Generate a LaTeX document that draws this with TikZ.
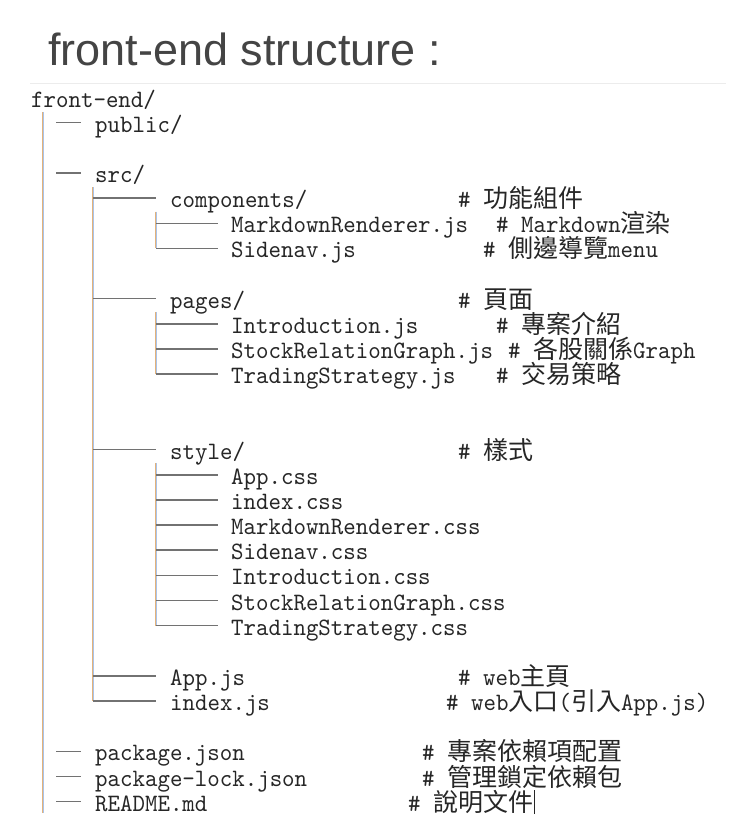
\documentclass[tikz,border=0pt]{standalone}
\usepackage{fontspec}
\setmonofont{lmmono10-regular.otf}[FakeStretch=0.95]
\newfontfamily\cjk{Noto Sans CJK TC}
\newfontfamily\titlefont{Liberation Sans}
\newcommand\treefont{\ttfamily\fontsize{25}{25}\selectfont}

\definecolor{titlegray}{HTML}{444444}
\definecolor{textgray}{HTML}{262626}
\definecolor{linegray}{HTML}{727272}
\definecolor{barorange}{HTML}{E3B27A}
\definecolor{barblue}{HTML}{A9C3EA}

\tikzset{
	item/.style={anchor=base west, inner sep=0pt, font=\treefont, text=textgray},
	note/.style={item},
	branch/.style={draw=linegray, line width=1.5pt},
	stub/.style={draw=linegray, line width=1.3pt},
	vbar/.style={draw=barblue, line width=0.9pt,
		preaction={draw=barorange, line width=0.9pt, transform canvas={xshift=-0.9pt}}}
}

\begin{document}
\begin{tikzpicture}
\useasboundingbox (0pt,0pt) rectangle (740pt,-830pt);

% Titulo
	\node[anchor=base west, inner sep=0pt, font=\titlefont\fontsize{45}{45}\selectfont, text=titlegray]
		(title) at (48pt,-65pt) {front-end structure :};
	\draw[gray!15, line width=0.8pt] (30pt,-83pt) -- (726pt,-83pt);

% Arvore
\begin{scope}[x=1pt, y=-25.15pt, yshift=-107pt]
	\node[item] (root) at (31,0) {front-end/};

	\node[item] (pub)    at (95,1)  {public/};
	\node[item] (src)    at (95,3)  {src/};
	\node[item] (pkg)    at (95,26) {package.json};
	\node[item] (lock)   at (95,27) {package-lock.json};
	\node[item] (readme) at (95,28) {README.md};

	\node[item] (comp)  at (170,4)  {components/};
	\node[item] (pages) at (170,8)  {pages/};
	\node[item] (style) at (170,14) {style/};
	\node[item] (appjs) at (170,23) {App.js};
	\node[item] (idxjs) at (170,24) {index.js};

	\node[item] (mdr)   at (231,5)  {MarkdownRenderer.js};
	\node[item] (side)  at (231,6)  {Sidenav.js};
	\node[item] (intro) at (231,9)  {Introduction.js};
	\node[item] (stock) at (231,10) {StockRelationGraph.js};
	\node[item] (trade) at (231,11) {TradingStrategy.js};

	\foreach \n/\t [count=\r from 15] in {appcss/App.css, idxcss/index.css,
		mdrcss/MarkdownRenderer.css, sidecss/Sidenav.css, introcss/Introduction.css,
		stockcss/StockRelationGraph.css, tradecss/TradingStrategy.css}
		\node[item] (\n) at (231,\r) {\t};

% Comentarios
	\node[note] (compn)   at (458,4)  {\# {\cjk 功能組件}};
	\node[note] (mdrn)    at (496,5)  {\# Markdown{\cjk 渲染}};
	\node[note] (siden)   at (483,6)  {\# {\cjk 側邊導覽}menu};
	\node[note] (pagesn)  at (458,8)  {\# {\cjk 頁面}};
	\node[note] (intron)  at (496,9)  {\# {\cjk 專案介紹}};
	\node[note] (stockn)  at (508,10) {\# {\cjk 各股關係}Graph};
	\node[note] (traden)  at (496,11) {\# {\cjk 交易策略}};
	\node[note] (stylen)  at (458,14) {\# {\cjk 樣式}};
	\node[note] (appjsn)  at (458,23) {\# web{\cjk 主頁}};
	\node[note] (idxjsn)  at (446,24) {\# web{\cjk 入口}({\cjk 引入}App.js)};
	\node[note] (pkgn)    at (422,26) {\# {\cjk 專案依賴項配置}};
	\node[note] (lockn)   at (422,27) {\# {\cjk 管理鎖定依賴包}};
	\node[note] (readmen) at (408,28) {\# {\cjk 說明文件}};
	\draw[textgray, line width=0.8pt] ([xshift=1pt,yshift=-3pt]readmen.base east) -- ++(0pt,24pt);

% Ligacoes
	\draw[vbar] ([xshift=12pt,yshift=-5pt]root.base west) -- ([xshift=-52pt,yshift=-2pt]readme.base west);
	\foreach \n in {pub,src,pkg,lock,readme}
		\draw[stub] ([xshift=-39pt,yshift=9.5pt]\n.base west) -- ++(25pt,0pt);

	\draw[vbar] ([xshift=-2pt,yshift=-5pt]src.base west) -- ([xshift=-77pt,yshift=9.5pt]idxjs.base west);
	\foreach \n in {comp,pages,style,appjs,idxjs}
		\draw[branch] ([xshift=-77pt,yshift=9.5pt]\n.base west) -- ++(63pt,0pt);

	\foreach \p/\l in {comp/side, pages/trade, style/tradecss}
		\draw[vbar] ([xshift=-14pt,yshift=-4pt]\p.base west) -- ([xshift=-75pt,yshift=9.5pt]\l.base west);
	\foreach \n in {mdr,side,intro,stock,trade,appcss,idxcss,mdrcss,sidecss,introcss,stockcss,tradecss}
		\draw[branch] ([xshift=-75pt,yshift=9.5pt]\n.base west) -- ++(62pt,0pt);
\end{scope}
\end{tikzpicture}
\end{document}
